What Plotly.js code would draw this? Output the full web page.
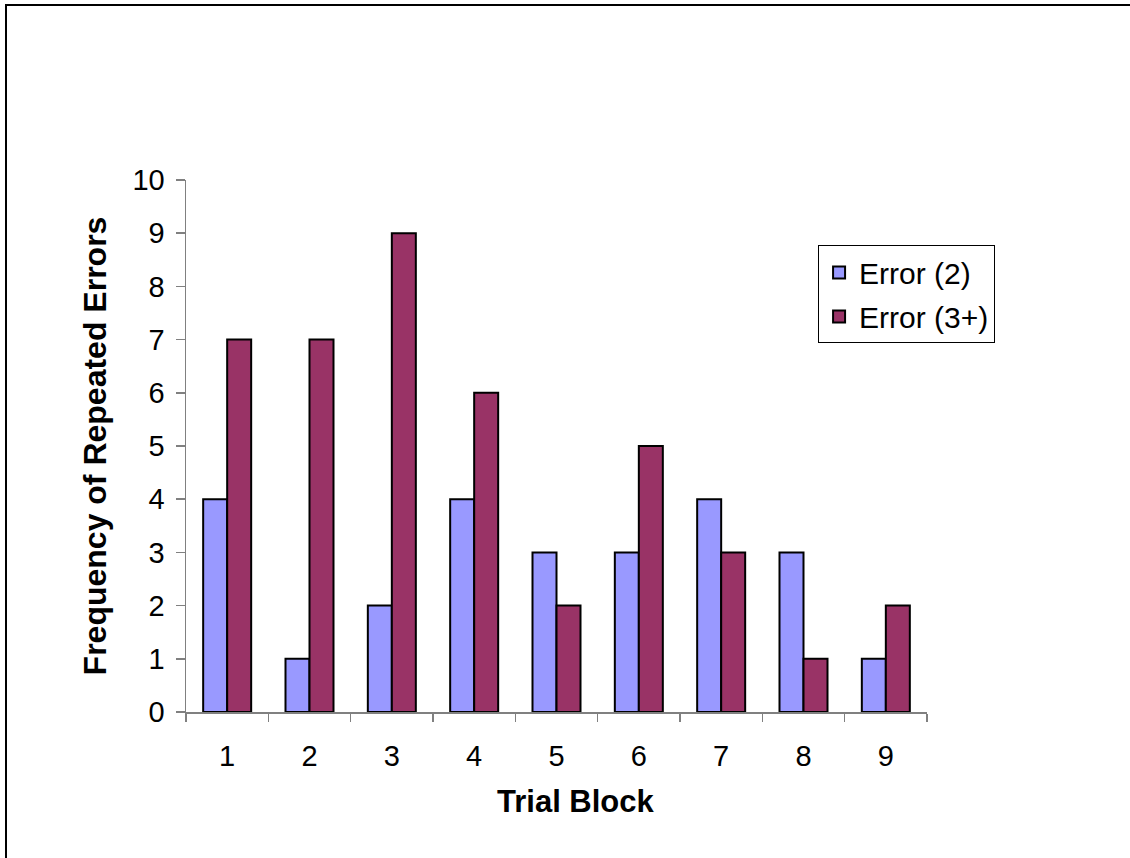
<!DOCTYPE html>
<html><head><meta charset="utf-8">
<script src="https://cdn.plot.ly/plotly-3.0.1.min.js"></script>
<style>
html,body{margin:0;padding:0;background:#fff;}
#wrap{position:relative;width:1130px;height:858px;overflow:hidden;}
#chart{width:1130px;height:858px;}
#frame{position:absolute;left:5px;top:4px;width:1200px;height:1000px;border-top:2px solid #000;border-left:2px solid #000;pointer-events:none;}
</style>
</head><body>
<div id="wrap"><div id="chart"></div><div id="frame"></div></div>
<script>
const categories = ['1','2','3','4','5','6','7','8','9'];
const error2 = [4,1,2,4,3,3,4,3,1];
const error3plus = [7,7,9,6,2,5,3,1,2];
const seriesNames = ['Error (2)','Error (3+)'];
const xTitle = 'Trial Block';
const yTitle = 'Frequency of Repeated Errors';
const colors = ['#9999FF','#993366'];
const font = 'Liberation Sans, Arial, sans-serif';

const series = [error2, error3plus];
const traces = [];
series.forEach((vals, i) => {
  traces.push({type:'bar', x:categories, y:vals, name:seriesNames[i], showlegend:false,
    legendgroup:'g'+i, marker:{color:colors[i], line:{color:'#000', width:2}}});
});
// legend-only entries (larger square swatches)
series.forEach((vals, i) => {
  traces.push({type:'scatter', mode:'markers', x:[null], y:[null], name:seriesNames[i],
    legendgroup:'g'+i, showlegend:true, hoverinfo:'skip',
    marker:{symbol:'square', size:16, color:colors[i], line:{color:'#000', width:2}}});
});
const layout = {
  width:1130, height:858,
  margin:{l:186, r:203, t:180, b:146},
  paper_bgcolor:'#fff', plot_bgcolor:'#fff',
  font:{family:font, size:29, color:'#000'},
  barmode:'group', bargap:0.417, bargroupgap:0,
  showlegend:true,
  legend:{x:0.853, y:0.877, xanchor:'left', yanchor:'top',
    bordercolor:'#000', borderwidth:1, bgcolor:'#fff',
    font:{family:font, size:30}, tracegroupgap:2, itemwidth:30, itemsizing:'constant'},
  xaxis:{type:'category', showline:true, linecolor:'#808080', linewidth:1.5,
    ticks:'outside', ticklen:8, tickcolor:'#808080', tickwidth:1.5,
    tickson:'boundaries', showgrid:false, zeroline:false,
    tickfont:{family:font, size:29}, ticklabelstandoff:18},
  yaxis:{range:[0,10], dtick:1, showline:true, linecolor:'#808080', linewidth:1.5,
    ticks:'outside', ticklen:9, tickcolor:'#808080', tickwidth:1.5,
    showgrid:false, zeroline:false, tickfont:{family:font, size:29},
    ticklabelstandoff:5,
    title:{text:'<b>'+yTitle+'</b>', font:{family:font, size:32}, standoff:16}},
  annotations:[{text:'<b>'+xTitle+'</b>', xref:'paper', yref:'paper', x:0.526, y:-0.169,
    xanchor:'center', yanchor:'middle', showarrow:false, font:{family:font, size:31}}]
};
Plotly.newPlot('chart', traces, layout, {displayModeBar:false, staticPlot:true});
</script>
</body></html>
